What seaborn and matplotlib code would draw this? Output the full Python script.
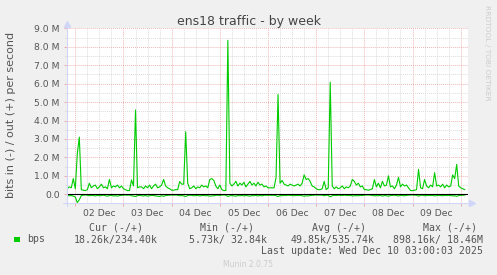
import pandas as pd
import matplotlib
matplotlib.use("Agg")
import matplotlib.pyplot as plt
import matplotlib.dates as mdates
from matplotlib.ticker import MultipleLocator, FuncFormatter
from matplotlib.patches import Rectangle
import seaborn as sns

# ---------------- data (values in Mbit/s, hourly samples) ----------------
START = "2025-12-01 20:00"

out_mbps = [
    0.3, 0.4, 0.35, 0.85, 0.3, 2.2, 3.1, 0.25,
    0.22, 0.2, 0.25, 0.6, 0.35, 0.45, 0.5, 0.3, 0.4, 0.55, 0.35, 0.4,
    0.3, 0.8, 0.35, 0.45, 0.4, 0.5, 0.35, 0.45, 0.3, 0.25, 0.2, 0.2,
    0.78, 0.45, 4.57, 0.35, 0.4, 0.4, 0.3, 0.45, 0.35, 0.5, 0.3, 0.45,
    0.55, 0.35, 0.4, 0.5, 0.8, 0.45, 0.35, 0.3, 0.22, 0.22, 0.25, 0.25,
    0.69, 0.55, 0.55, 3.39, 0.6, 0.3, 0.35, 0.45, 0.3, 0.4, 0.35, 0.5,
    0.4, 0.45, 0.35, 0.8, 0.85, 0.75, 0.45, 0.3, 0.5, 0.25, 0.2, 0.2,
    8.35, 0.6, 0.45, 0.55, 0.7, 0.45, 0.6, 0.5, 0.65, 0.4, 0.55, 0.7,
    0.5, 0.6, 0.45, 0.65, 0.5, 0.55, 0.4, 0.45, 0.35, 0.35, 0.35, 0.35,
    0.9, 5.41, 0.6, 0.75, 0.55, 0.5, 0.45, 0.55, 0.5, 0.45, 0.5, 0.55,
    0.45, 0.6, 1.05, 0.8, 0.85, 0.7, 0.45, 0.4, 0.3, 0.25, 0.25, 0.3,
    0.7, 0.25, 0.35, 6.08, 0.45, 0.3, 0.4, 0.3, 0.35, 0.45, 0.3, 0.4,
    0.35, 0.45, 0.8, 0.7, 0.5, 0.6, 0.4, 0.45, 0.25, 0.25, 0.22, 0.25,
    0.3, 0.8, 0.4, 0.6, 0.35, 0.7, 0.45, 0.5, 1.0, 0.4, 0.45, 0.3,
    0.5, 0.92, 0.4, 0.55, 0.45, 0.5, 0.35, 0.2, 0.2, 0.22, 0.25, 1.35,
    0.35, 0.3, 0.8, 0.45, 0.35, 0.5, 0.4, 1.17, 0.45, 0.5, 0.4, 0.55,
    0.35, 0.5, 0.4, 0.45, 1.05, 0.85, 1.62, 0.45, 0.35, 0.3, 0.25,
]

in_mbps = [
    0.06, 0.08, 0.07, 0.1,
    0.15, 0.45, 0.3, 0.07,
    0.05, 0.04, 0.05, 0.08, 0.06, 0.07, 0.09, 0.06, 0.08, 0.07, 0.05, 0.08,
    0.1, 0.07, 0.06, 0.09, 0.08, 0.1, 0.07, 0.06, 0.05, 0.04, 0.05, 0.04,
    0.08, 0.1, 0.12, 0.07, 0.06, 0.08, 0.09, 0.07, 0.1, 0.08, 0.06, 0.07,
    0.09, 0.1, 0.12, 0.08, 0.11, 0.07, 0.06, 0.05, 0.04, 0.05, 0.04, 0.05,
    0.08, 0.07, 0.09, 0.12, 0.07, 0.05, 0.06, 0.08, 0.07, 0.06, 0.09, 0.07,
    0.06, 0.08, 0.07, 0.1, 0.09, 0.08, 0.06, 0.05, 0.07, 0.04, 0.04, 0.05,
    0.12, 0.08, 0.07, 0.09, 0.1, 0.07, 0.08, 0.06, 0.09, 0.07, 0.08, 0.1,
    0.07, 0.08, 0.06, 0.09, 0.07, 0.08, 0.06, 0.05, 0.06, 0.05, 0.06, 0.05,
    0.08, 0.12, 0.07, 0.08, 0.06, 0.07, 0.05, 0.06, 0.07, 0.08, 0.06, 0.07,
    0.06, 0.08, 0.1, 0.08, 0.09, 0.07, 0.06, 0.05, 0.04, 0.05, 0.04, 0.05,
    0.08, 0.05, 0.06, 0.14, 0.08, 0.06, 0.07, 0.05, 0.06, 0.07, 0.05, 0.06,
    0.07, 0.06, 0.09, 0.08, 0.07, 0.08, 0.06, 0.07, 0.05, 0.04, 0.04, 0.05,
    0.06, 0.09, 0.07, 0.08, 0.06, 0.1, 0.07, 0.08, 0.1, 0.07, 0.06, 0.05,
    0.07, 0.09, 0.06, 0.07, 0.08, 0.06, 0.05, 0.04, 0.04, 0.05, 0.05, 0.1,
    0.06, 0.05, 0.08, 0.07, 0.06, 0.07, 0.06, 0.09, 0.07, 0.06, 0.07, 0.08,
    0.06, 0.07, 0.06, 0.07, 0.09, 0.08, 0.11, 0.07, 0.06, 0.05, 0.05,
]

day_labels = ["02 Dec", "03 Dec", "04 Dec", "05 Dec", "06 Dec", "07 Dec", "08 Dec", "09 Dec"]
legend_cols = ["Cur (-/+)", "Min (-/+)", "Avg (-/+)", "Max (-/+)"]
legend_vals = ["18.26k/234.40k", "5.73k/ 32.84k", "49.85k/535.74k", "898.16k/ 18.46M"]
series_name = "bps"
title = "ens18 traffic - by week"
ylabel = "bits in (-) / out (+) per second"
last_update = "Last update: Wed Dec 10 03:00:03 2025"
footer = "Munin 2.0.75"
side_text = "RRDTOOL / TOBI OETIKER"

times = pd.date_range(START, periods=len(out_mbps), freq="h")
df = pd.DataFrame({"time": times, "out": out_mbps, "in": [-v for v in in_mbps]})

# ---------------- style ----------------
sns.set_style("white")
plt.rcParams["font.family"] = ["DejaVu Sans"]

W, H = 497, 275
GREEN = "#00CC00"
RED = "#eeaaaa"
GRAY = "#d6d6d6"
AXC = "#CFD6F8"
TXT = "#555555"

fig = plt.figure(figsize=(W / 100, H / 100), dpi=100, facecolor="#F0F0F0")
L, R, T, B = 67, 467.7, 28.3, 203.3
ax = fig.add_axes([L / W, 1 - B / H, (R - L) / W, (B - T) / H])
ax.set_facecolor("white")


def px(x, y):
    return x / W, 1 - y / H


# grid: 6-hour gray verticals
for t in pd.date_range("2025-12-01 18:00", "2025-12-10 06:00", freq="6h"):
    if t.hour != 0:
        ax.axvline(t, color=GRAY, lw=0.65, ls=(0, (1, 1.2)), zorder=0)

sns.lineplot(data=df, x="time", y="out", color=GREEN, lw=0.8, ax=ax, zorder=3)
sns.lineplot(data=df, x="time", y="in", color=GREEN, lw=0.8, ax=ax, zorder=3)
ax.axhline(0, color="black", lw=0.8, zorder=4)

ax.set_xlabel("")
ax.set_ylabel("")
ax.set_xlim(pd.Timestamp("2025-12-01 19:52"), pd.Timestamp("2025-12-10 03:29"))
ax.set_ylim(-0.49, 9.0)

days = pd.date_range("2025-12-02", periods=9, freq="D")
noons = pd.date_range("2025-12-02 12:00", periods=len(day_labels), freq="D")
ax.set_xticks(mdates.date2num(noons))
ax.set_xticklabels(day_labels)
ax.set_xticks(mdates.date2num(days), minor=True)

ax.yaxis.set_major_locator(MultipleLocator(1.0))
ax.yaxis.set_minor_locator(MultipleLocator(0.5))
ax.yaxis.set_major_formatter(FuncFormatter(lambda v, p: "0.0" if abs(v) < 1e-9 else f"{v:.1f} M"))

ax.grid(False)
ax.grid(which="minor", axis="x", color=RED, lw=0.65, ls=(0, (1, 1.2)), zorder=1)
ax.grid(which="major", axis="y", color=RED, lw=0.65, ls=(0, (1, 1.2)), zorder=1)
ax.grid(which="minor", axis="y", color=GRAY, lw=0.65, ls=(0, (1, 1.2)), zorder=0)
ax.set_axisbelow(True)

ax.tick_params(axis="x", which="major", bottom=True, length=0, pad=4.0,
               labelsize=6.7, labelcolor=TXT)
ax.tick_params(axis="x", which="minor", bottom=True, length=2.2, width=0.7, color=RED)
ax.tick_params(axis="y", which="major", left=True, length=2.2, width=0.7, color=RED,
               pad=3.2, labelsize=6.7, labelcolor=TXT)
ax.tick_params(axis="y", which="minor", left=True, length=1.5, width=0.7, color=GRAY)

for s in ax.spines.values():
    s.set_visible(False)

# axis lines with arrows (rrdtool style)
aw = R - L
ah = B - T
ax.plot([-4 / aw, 1 + 2 / aw], [0, 0], transform=ax.transAxes, color=AXC, lw=0.8,
        clip_on=False, zorder=5)
ax.plot([0, 0], [-3 / ah, 1 + 2 / ah], transform=ax.transAxes, color=AXC, lw=0.8,
        clip_on=False, zorder=5)
ax.plot([1 + 4 / aw], [0], marker=">", ms=4, color=AXC, mec=AXC,
        transform=ax.transAxes, clip_on=False, zorder=5)
ax.plot([0], [1 + 4 / ah], marker="^", ms=4, color=AXC, mec=AXC,
        transform=ax.transAxes, clip_on=False, zorder=5)

# ---------------- texts ----------------
fig.text(*px(248.7, 25), title, ha="center", va="baseline", fontsize=9, color="#444444")
fig.text(*px(11, 114.7), ylabel, ha="center", va="center", rotation=90,
         fontsize=8, color=TXT)
fig.text(*px(487.5, 5), side_text, ha="center", va="top", rotation=270,
         fontsize=5.4, color="#cccccc")

MONO = ["DejaVu Sans Mono"]
col_starts = [89, 200, 311.7, 422.7]
for x0, lab in zip(col_starts, legend_cols):
    fig.text(*px(x0, 230.8), lab, ha="left", va="baseline", fontsize=7.1,
             family=MONO, color=TXT)

fig.patches.append(Rectangle(px(14, 242.3), 5.5 / W, 5.6 / H, transform=fig.transFigure,
                             facecolor=GREEN, edgecolor="none"))
fig.text(*px(27, 242.5), series_name, ha="left", va="baseline", fontsize=7.1,
         family=MONO, color=TXT)
val_ends = [158, 266.7, 375, 482.7]
for x1, val in zip(val_ends, legend_vals):
    fig.text(*px(x1, 242.5), val, ha="right", va="baseline", fontsize=7.1,
             family=MONO, color=TXT)

fig.text(*px(482.7, 254.3), last_update, ha="right", va="baseline", fontsize=7.1,
         family=MONO, color=TXT)
fig.text(*px(248, 267), footer, ha="center", va="baseline", fontsize=5.5,
         color="#cccccc")

fig.savefig("out.png", dpi=100, facecolor=fig.get_facecolor())
